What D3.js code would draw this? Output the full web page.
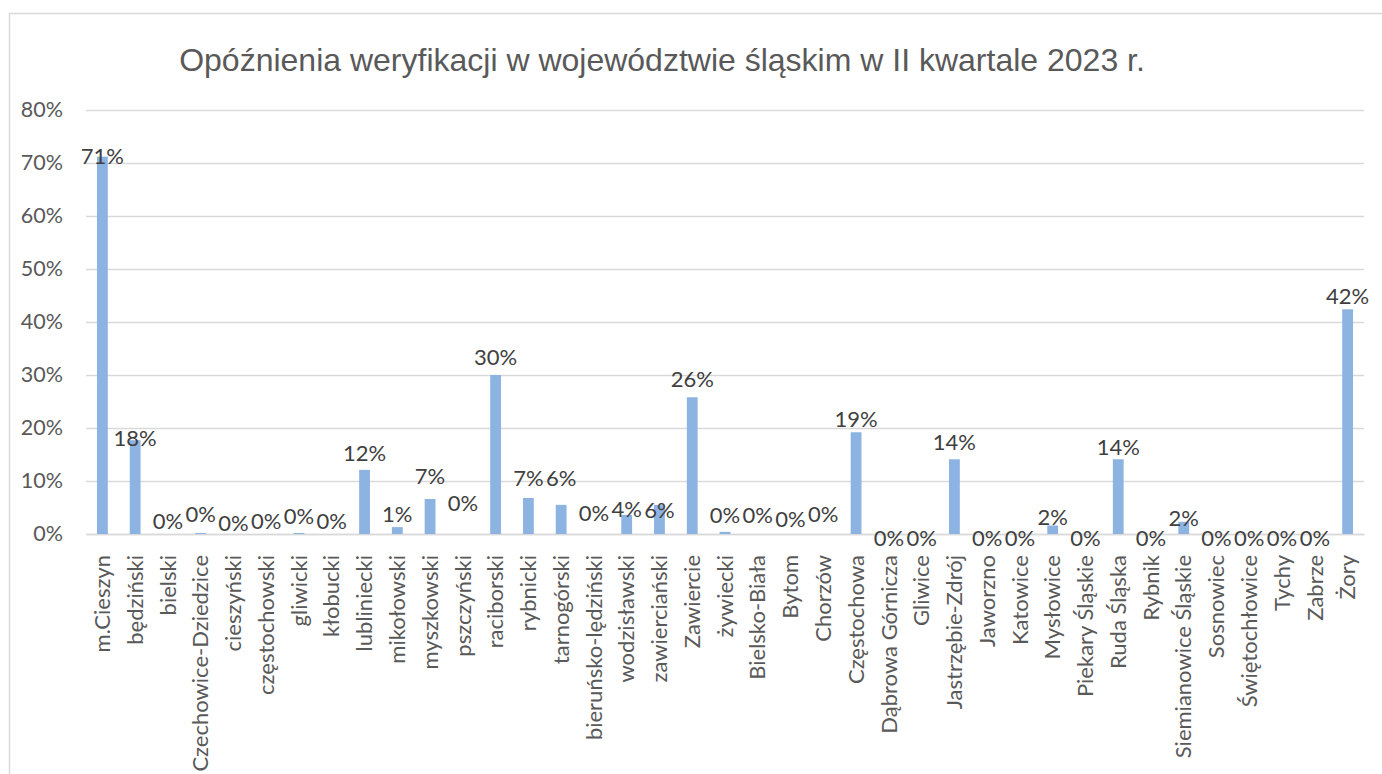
<!DOCTYPE html>
<html>
<head>
<meta charset="utf-8">
<script src="https://cdn.jsdelivr.net/npm/d3@7"></script>
<style>
  body { margin: 0; background: #fff; }
  #chart { width: 1382px; height: 774px; }
</style>
</head>
<body>
<div id="chart"></div>
<script>
// categories (powiaty / miasta)
const categories = [
  "m.Cieszyn", "będziński", "bielski", "Czechowice-Dziedzice", "cieszyński",
  "częstochowski", "gliwicki", "kłobucki", "lubliniecki", "mikołowski",
  "myszkowski", "pszczyński", "raciborski", "rybnicki", "tarnogórski",
  "bieruńsko-lędziński", "wodzisławski", "zawierciański", "Zawiercie", "żywiecki",
  "Bielsko-Biała", "Bytom", "Chorzów", "Częstochowa", "Dąbrowa Górnicza",
  "Gliwice", "Jastrzębie-Zdrój", "Jaworzno", "Katowice", "Mysłowice",
  "Piekary Śląskie", "Ruda Śląska", "Rybnik", "Siemianowice Śląskie", "Sosnowiec",
  "Świętochłowice", "Tychy", "Zabrze", "Żory"
];

// opóźnienia w %
const delays = [
  71.2, 17.7, 0, 0.2, 0,
  0, 0.2, 0, 12.1, 1.3,
  6.6, 0, 30.0, 6.8, 5.5,
  0, 3.6, 5.5, 25.8, 0.4,
  0, 0, 0, 19.2, 0,
  0, 14.1, 0, 0, 1.6,
  0, 14.1, 0, 2.3, 0,
  0, 0, 0, 42.4
];

const yTicks = [0, 10, 20, 30, 40, 50, 60, 70, 80];

// how far each data label sits above its bar top (px) - excel moved them around
const labelLift = [
  0, 2, 13, 19, 11, 13, 17, 13, 17, 13,
  23, 31, 18, 20, 27, 21, 6, -5, 18, 17,
  19, 15, 20, 13, -4, -4, 17, -4, -4, 8,
  -4, 12, -4, 4, -4, -4, -4, -4, 13
];

const title = "Opóźnienia weryfikacji w województwie śląskim w II kwartale 2023 r.";

const W = 1382, H = 774;
const margin = { top: 110, right: 18, bottom: 240, left: 86 };
const plotW = W - margin.left - margin.right;
const plotH = 534 - margin.top;

const svg = d3.select("#chart").append("svg")
  .attr("width", W)
  .attr("height", H);

// outer chart frame
svg.append("rect")
  .attr("x", 9.5).attr("y", 13.5)
  .attr("width", W + 20).attr("height", H + 20)
  .attr("fill", "none")
  .attr("stroke", "#d9d9d9")
  .attr("stroke-width", 1.5);

svg.append("text")
  .attr("x", 662)
  .attr("y", 71)
  .attr("text-anchor", "middle")
  .attr("font-family", "Liberation Sans, Arial, sans-serif")
  .attr("font-size", 32)
  .attr("fill", "#595959")
  .text(title);

const g = svg.append("g")
  .attr("transform", "translate(" + margin.left + "," + margin.top + ")");

const x = d3.scaleBand()
  .domain(categories)
  .range([0, plotW])
  .paddingInner(0.67)
  .paddingOuter(0.335);

const y = d3.scaleLinear()
  .domain([0, 80])
  .range([plotH, 0]);

// gridlines + y labels
const yAxis = g.append("g")
  .call(d3.axisLeft(y)
    .tickValues(yTicks)
    .tickSize(-plotW)
    .tickPadding(23)
    .tickFormat(d => d + "%"));
yAxis.select(".domain").remove();
yAxis.selectAll(".tick line")
  .attr("stroke", "#d9d9d9")
  .attr("stroke-width", 1.5);
yAxis.selectAll(".tick text")
  .attr("font-family", "Lato, sans-serif")
  .attr("font-size", 21.5)
  .attr("fill", "#595959");

// category axis
const xAxis = g.append("g")
  .attr("transform", "translate(0," + plotH + ")")
  .call(d3.axisBottom(x).tickSize(0));
xAxis.select(".domain")
  .attr("stroke", "#d9d9d9")
  .attr("stroke-width", 1.5);
xAxis.selectAll(".tick text")
  .attr("font-family", "Lato, sans-serif")
  .attr("font-size", 22)
  .attr("fill", "#595959")
  .attr("text-anchor", "end")
  .attr("dy", "0.35em")
  .attr("transform", "translate(0,21) rotate(-90)")
  .attr("x", 0)
  .attr("y", 0);

// bars
g.selectAll(".bar")
  .data(delays)
  .join("rect")
  .attr("class", "bar")
  .attr("x", (d, i) => x(categories[i]))
  .attr("y", d => y(d))
  .attr("width", x.bandwidth())
  .attr("height", d => plotH - y(d))
  .attr("fill", "#8db3e2");

// data labels
g.selectAll(".lbl")
  .data(delays)
  .join("text")
  .attr("class", "lbl")
  .attr("x", (d, i) => x(categories[i]) + x.bandwidth() / 2)
  .attr("y", (d, i) => y(d) - labelLift[i])
  .attr("dy", "0.35em")
  .attr("text-anchor", "middle")
  .attr("font-family", "Lato, sans-serif")
  .attr("font-size", 22)
  .attr("fill", "#404040")
  .text(d => Math.round(d) + "%");
</script>
</body>
</html>
